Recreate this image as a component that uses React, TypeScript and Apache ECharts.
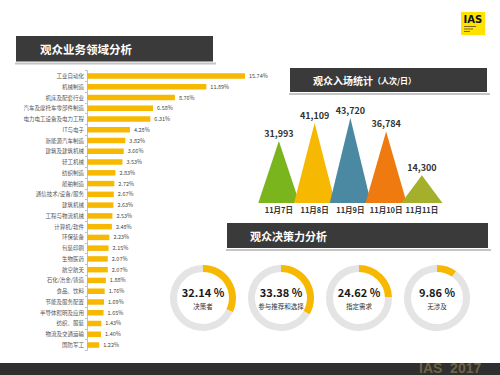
import React, { useEffect, useRef } from "react";
import * as echarts from "echarts";

const categories = [
  "工业自动化", "机械制造", "机床及配套行业", "汽车及摩托车零部件制造", "电力电工设备及电力工程",
  "IT与电子", "新能源汽车制造", "建筑及建筑机械", "轻工机械", "纺织制造", "船舶制造",
  "通信技术/设备/服务", "建筑机械", "工程与物流机械", "计算机/软件", "环保装备", "包装印刷",
  "生物医药", "航空航天", "石化/冶金/铸造", "食品、饮料", "节能及服务配置", "半导体照明及应用",
  "纺织、服装", "物流及交通运输", "国防军工",
];
const shares = [
  15.74, 11.89, 8.76, 6.58, 6.31, 4.28, 3.82, 3.66, 3.53, 2.83, 2.72, 2.67, 2.63, 2.53, 2.48,
  2.23, 2.15, 2.07, 2.07, 1.88, 1.76, 1.69, 1.65, 1.43, 1.4, 1.22,
];
const days = ["11月7日", "11月8日", "11月9日", "11月10日", "11月11日"];
const visitors = [31993, 41109, 43720, 36784, 14300];
const triColors = ["#7ab51d", "#f6b800", "#4b88a2", "#ee7a10", "#a4b02b"];
const roles = ["决策者", "参与推荐和选择", "指定需求", "无涉及"];
const rolePct = [32.14, 33.38, 24.62, 9.86];

const FONT = "'Noto Sans CJK SC', 'Noto Sans', sans-serif";

function titleBar(x: number, y: number, w: number, h: number, text: any) {
  return [
    { type: "line", shape: { x1: x - 1, y1: y + h + 2, x2: x + w + 3, y2: y + h + 2 }, style: { stroke: "#c4c4c4", lineWidth: 2 } },
    { type: "rect", shape: { x, y, width: w, height: h }, style: { fill: "#3a3a3a" } },
    text,
  ];
}

export default function App() {
  const ref = useRef<HTMLDivElement>(null);
  useEffect(() => {
    const chart = echarts.init(ref.current!, null, { renderer: "svg" });
    const pies = rolePct.map((p, i) => ({
      type: "pie",
      center: [203 + i * 78, 298],
      radius: [26, 33],
      startAngle: 90,
      clockwise: true,
      silent: true,
      avoidLabelOverlap: false,
      labelLine: { show: false },
      label: { show: false },
      emphasis: { disabled: true },
      data: [
        {
          value: p,
          name: roles[i],
          itemStyle: { color: "#f6b800" },
          label: {
            show: true,
            position: "center",
            formatter: () => `{a|${p.toFixed(2)} %}\n{b|${roles[i]}}`,
            rich: {
              a: { fontSize: 11, fontWeight: "bold", color: "#1a1a1a", lineHeight: 15, fontFamily: FONT },
              b: { fontSize: 6.5, color: "#333", lineHeight: 12, fontFamily: FONT },
            },
          },
        },
        { value: +(100 - p).toFixed(2), name: "其他", itemStyle: { color: "#e4e4e4" }, label: { show: false } },
      ],
    }));
    chart.setOption({
      animation: false,
      backgroundColor: "#ffffff",
      textStyle: { fontFamily: FONT },
      grid: [
        { left: 87, top: 70.6, width: 160.6, height: 279.8 },
        { left: 261, top: 105.8, width: 178.75, height: 97.2 },
      ],
      xAxis: [
        { type: "value", gridIndex: 0, min: 0, max: 16, show: false },
        {
          type: "category", gridIndex: 1, data: days,
          axisLine: { show: false }, axisTick: { show: false },
          axisLabel: { interval: 0, hideOverlap: false, fontSize: 7.5, fontWeight: "bold", color: "#333", margin: 3, fontFamily: FONT },
        },
      ],
      yAxis: [
        {
          type: "category", gridIndex: 0, data: categories, inverse: true,
          axisLine: { show: true, lineStyle: { color: "#b8c4cc", width: 1 } },
          axisTick: { show: true, length: 2, lineStyle: { color: "#b8c4cc" } },
          axisLabel: { interval: 0, fontSize: 5.5, color: "#555", margin: 3, fontFamily: FONT },
        },
        { type: "value", gridIndex: 1, min: 0, max: 50000, show: false },
      ],
      series: [
        {
          type: "bar", xAxisIndex: 0, yAxisIndex: 0, data: shares, barWidth: 5.5,
          itemStyle: { color: "#f6b800" }, silent: true,
          label: {
            show: true, position: "right", distance: 4, fontSize: 5.5, color: "#444",
            formatter: (p: any) => p.value.toFixed(2) + "%", fontFamily: FONT,
          },
        },
        {
          type: "pictorialBar", xAxisIndex: 1, yAxisIndex: 1, symbol: "triangle",
          symbolSize: ["100%", "100%"], barWidth: 41, silent: true,
          data: visitors.map((v, i) => ({ value: v, itemStyle: { color: triColors[i] } })),
          label: {
            show: true, position: "top", distance: 3, fontSize: 9, fontWeight: "bold", color: "#333",
            formatter: (p: any) => Number(p.value).toLocaleString("en-US"), fontFamily: FONT,
          },
        },
        ...pies,
      ],
      graphic: [
        ...titleBar(16, 36, 197, 25.5, {
          type: "text", x: 40, y: 49,
          style: { text: "观众业务领域分析", fill: "#fff", font: `bold 11.5px ${FONT}`, textVerticalAlign: "middle" },
        }),
        ...titleBar(290, 68, 197, 24, {
          type: "text", x: 313, y: 80,
          style: {
            text: "{a|观众入场统计}{b|（人次/日）}", fill: "#fff", textVerticalAlign: "middle",
            rich: {
              a: { fontSize: 10, fontWeight: "bold", fill: "#fff", fontFamily: FONT },
              b: { fontSize: 8, fontWeight: "bold", fill: "#fff", fontFamily: FONT },
            },
          },
        }),
        ...titleBar(227, 223, 261, 25, {
          type: "text", x: 250, y: 236,
          style: { text: "观众决策力分析", fill: "#fff", font: `bold 11px ${FONT}`, textVerticalAlign: "middle" },
        }),
        { type: "rect", shape: { x: 461, y: 12, width: 24, height: 23 }, style: { fill: "#ffe200" } },
        { type: "text", x: 463.5, y: 14, style: { text: "IAS", fill: "#111", font: `bold 10px 'DejaVu Sans', sans-serif` } },
        { type: "rect", shape: { x: 464, y: 26, width: 12, height: 1 }, style: { fill: "#7a6a20" } },
        { type: "rect", shape: { x: 464, y: 28.5, width: 9, height: 1 }, style: { fill: "#7a6a20" } },
        { type: "rect", shape: { x: 464, y: 31, width: 6, height: 1 }, style: { fill: "#7a6a20" } },
        { type: "rect", shape: { x: 0, y: 363, width: 500, height: 12 }, style: { fill: "#2f2f2f" } },
        { type: "text", x: 419, y: 360.5, style: { text: "IAS  2017", fill: "#6e6242", font: `bold 14px 'Liberation Sans', sans-serif` } },
      ],
    });
    return () => chart.dispose();
  }, []);
  return <div ref={ref} style={{ position: "fixed", left: 0, top: 0, width: 500, height: 375 }} />;
}
